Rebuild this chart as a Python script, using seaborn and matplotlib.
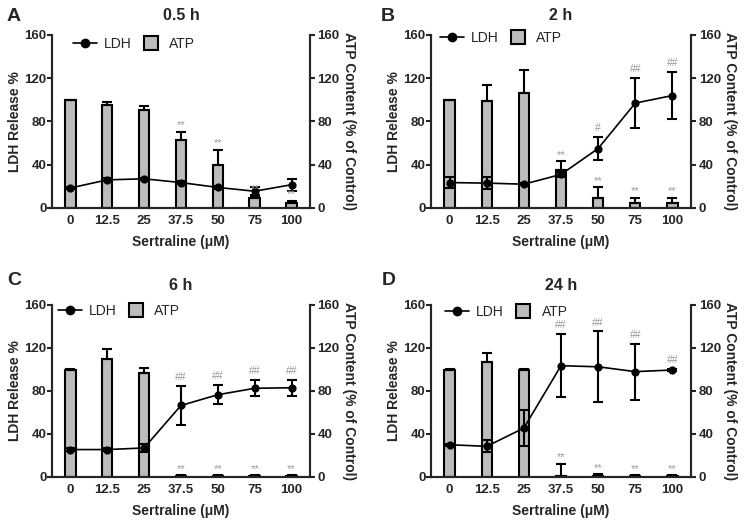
"""
Sertraline cytotoxicity - LDH release and ATP content at four time points.

Four panels (0.5 h, 2 h, 6 h, 24 h): ATP content as bars on the right axis,
LDH release as a line on the left axis, both as % with mean +/- SD.
"""

import matplotlib

matplotlib.use("Agg")
import matplotlib.pyplot as plt
from matplotlib.lines import Line2D
import seaborn as sns

doses = ["0", "12.5", "25", "37.5", "50", "75", "100"]

# Panel A - 0.5 h
ldh_a = [18.5, 26, 27, 23.5, 19, 15.5, 21.5]
ldh_a_err = [1, 1.5, 1, 1, 1, 3.5, 5.5]
atp_a = [99.5, 95.5, 90.5, 62.5, 39.5, 9.5, 4.5]
atp_a_err = [0.5, 2.5, 3.5, 8, 14, 1.5, 2]
ldh_a_sig = ["", "", "", "", "", "", ""]
atp_a_sig = ["", "", "", "**", "**", "**", "**"]

# Panel B - 2 h
ldh_b = [23.5, 23, 22, 31, 55, 97, 104]
ldh_b_err = [5, 5.5, 1, 2, 11, 23, 22]
atp_b = [99.5, 99, 106.5, 35.5, 9.5, 4.5, 4.5]
atp_b_err = [0.5, 15, 21.5, 7.5, 9.5, 5, 5]
ldh_b_sig = ["", "", "", "", "#", "##", "##"]
atp_b_sig = ["", "", "", "**", "**", "**", "**"]

# Panel C - 6 h
ldh_c = [25.5, 25.5, 27, 66.5, 76.5, 82.5, 83]
ldh_c_err = [1, 1, 4, 18, 9, 7.5, 7.5]
atp_c = [99.5, 110, 96.5, 1, 1, 1, 1]
atp_c_err = [0.5, 9.5, 4.5, 0.5, 0.5, 0.5, 0.5]
ldh_c_sig = ["", "", "", "##", "##", "##", "##"]
atp_c_sig = ["", "", "", "**", "**", "**", "**"]

# Panel D - 24 h
ldh_d = [30, 28.5, 45.5, 103.5, 102.5, 98, 99.5]
ldh_d_err = [1, 5.5, 17, 29.5, 33, 26, 1]
atp_d = [99.5, 106.5, 99.5, 0.5, 1, 0.5, 0.5]
atp_d_err = [0.5, 8.5, 0.5, 11.5, 1.5, 1, 1]
ldh_d_sig = ["", "", "", "##", "##", "##", "##"]
atp_d_sig = ["", "", "", "**", "**", "**", "**"]

panels = [
    ("A", "0.5 h", ldh_a, ldh_a_err, atp_a, atp_a_err, ldh_a_sig, atp_a_sig),
    ("B", "2 h", ldh_b, ldh_b_err, atp_b, atp_b_err, ldh_b_sig, atp_b_sig),
    ("C", "6 h", ldh_c, ldh_c_err, atp_c, atp_c_err, ldh_c_sig, atp_c_sig),
    ("D", "24 h", ldh_d, ldh_d_err, atp_d, atp_d_err, ldh_d_sig, atp_d_sig),
]

# axes boxes in figure fractions (left, bottom, width, height)
boxes = [
    (0.0692, 0.6046, 0.3435, 0.3289),
    (0.5739, 0.6046, 0.3462, 0.3289),
    (0.0692, 0.0932, 0.3435, 0.3270),
    (0.5739, 0.0932, 0.3462, 0.3270),
]
letter_pos = [(0.009, 0.960), (0.507, 0.960), (0.009, 0.458), (0.508, 0.458)]
# legend left edge / vertical centre, axes fraction
legend_anchor = [(0.081, 0.948), (0.034, 0.983), (0.023, 0.965), (0.054, 0.960)]

sns.set_style("ticks")
plt.rcParams["font.family"] = ["Liberation Sans", "DejaVu Sans"]

BAR_GREY = "#bcbcbc"
SIG_GREY = "#999999"
LW = 1.5

fig = plt.figure(figsize=(7.51, 5.26), dpi=100)

for (letter, title, ldh, ldh_err, atp, atp_err, ldh_sig, atp_sig), box, lp, la in zip(
    panels, boxes, letter_pos, legend_anchor
):
    ax = fig.add_axes(box)
    ax2 = ax.twinx()

    # ATP bars on right axis (upper error bar only)
    sns.barplot(
        x=doses,
        y=atp,
        order=doses,
        color=BAR_GREY,
        edgecolor="black",
        linewidth=LW,
        width=0.28,
        errorbar=None,
        saturation=1,
        ax=ax2,
    )
    ax2.errorbar(
        range(len(doses)),
        atp,
        yerr=[[0] * len(atp), atp_err],
        fmt="none",
        ecolor="black",
        elinewidth=LW,
        capsize=3.5,
        capthick=LW,
    )

    # LDH line on left axis
    sns.pointplot(
        x=doses,
        y=ldh,
        order=doses,
        color="black",
        markers="o",
        markersize=5,
        linewidth=1.2,
        errorbar=None,
        ax=ax,
    )
    ax.errorbar(
        range(len(doses)),
        ldh,
        yerr=ldh_err,
        fmt="none",
        ecolor="black",
        elinewidth=LW,
        capsize=3.5,
        capthick=LW,
    )

    # significance marks (** vs control ATP, # vs control LDH)
    for i in range(len(doses)):
        if atp_sig[i]:
            ax.text(i, atp[i] + atp_err[i] + 1.5, atp_sig[i], ha="center",
                    va="bottom", fontsize=8, color=SIG_GREY)
        if ldh_sig[i]:
            ax.text(i, ldh[i] + ldh_err[i] + 3.5, ldh_sig[i], ha="center",
                    va="bottom", fontsize=7.5, color=SIG_GREY)

    # put line axis on top of the bar axis
    ax.set_zorder(ax2.get_zorder() + 1)
    ax.patch.set_visible(False)

    for a in (ax, ax2):
        a.set_ylim(0, 160)
        a.set_yticks([0, 40, 80, 120, 160])
        a.set_xlim(-0.5, 6.5)
        a.spines["top"].set_visible(False)
        for s in a.spines.values():
            s.set_linewidth(LW)
        a.tick_params(axis="y", length=3.5, width=LW, pad=0.5, labelsize=9.5)
        a.tick_params(axis="x", length=0, pad=5, labelsize=9.5)
        for t in a.get_yticklabels() + a.get_xticklabels():
            t.set_fontweight("bold")

    ax.set_xticks(range(len(doses)))
    ax.set_xticklabels(doses, fontweight="bold")
    ax2.tick_params(axis="y", pad=2)

    ax.set_xlabel("Sertraline (\u03bcM)", fontsize=10, fontweight="bold", labelpad=6)
    ax.set_ylabel("LDH Release %", fontsize=10, fontweight="bold", labelpad=2)
    ax2.set_ylabel("ATP Content (% of Control)", fontsize=10, fontweight="bold",
                   rotation=270, labelpad=12)
    ax2.set_xlabel("")
    ax.set_title(title, fontsize=11.5, fontweight="bold", pad=11)

    handles = [
        Line2D([], [], color="black", marker="o", markersize=6, linewidth=1.2),
        Line2D([], [], color="none", marker="s", markersize=9.5,
               markerfacecolor=BAR_GREY, markeredgecolor="black",
               markeredgewidth=LW, linestyle="none"),
    ]
    ax.legend(handles, ["LDH", "ATP"], loc="center left", bbox_to_anchor=la,
              ncol=2, frameon=False, fontsize=10, handlelength=1.75,
              columnspacing=0.55, handletextpad=0.45, borderpad=0,
              borderaxespad=0)

    fig.text(lp[0], lp[1], letter, fontsize=14, fontweight="bold",
             ha="left", va="baseline")

fig.savefig("out.png", dpi=100)
